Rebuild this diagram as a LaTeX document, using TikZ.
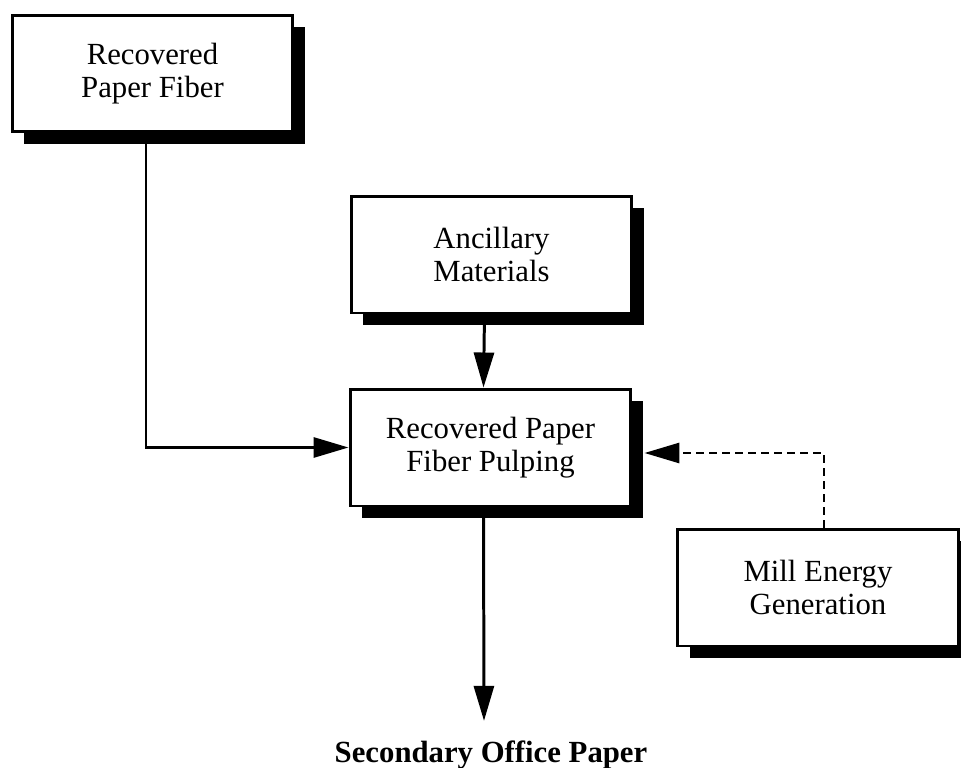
\documentclass[tikz,border=0pt]{standalone}
\usepackage{fontspec}
\setmainfont{Liberation Serif}
\usetikzlibrary{arrows.meta,shadows}

\begin{document}
\begin{tikzpicture}[x=0.02cm,y=-0.02cm,line width=1.7pt,
    every node/.style={font=\fontsize{17.5pt}{18.5pt}\selectfont},
    box/.style={draw,fill=white,align=center,minimum width=5.62cm,minimum height=2.34cm,
        drop shadow={shadow xshift=0.24cm,shadow yshift=-0.24cm,fill=black,opacity=1}},
    flow/.style={-{Triangle[length=0.7cm,width=0.4cm]}}]
                \useasboundingbox (0,0) rectangle (961,768);

                \node[box] (fiber) at (152.5,73.5) {Recovered\\Paper Fiber};
                \node[box] (anc) at (491.5,254.5) {Ancillary\\Materials};
                \node[box] (pulp) at (490.5,447.5) {Recovered Paper\\Fiber Pulping};
                \node[box] (energy) at (818,587.5) {Mill Energy\\Generation};
                \node[anchor=base,inner sep=0pt,font=\fontsize{17.5pt}{18.5pt}\selectfont\bfseries] (paper) at (491,762) {Secondary Office Paper};

                \draw[flow] ([xshift=-0.13cm]fiber.south) |- (pulp.west);
                \draw[flow] ([xshift=-0.14cm]anc.south) -- ([xshift=-0.14cm]pulp.north);
                \draw[flow,dash pattern=on 0.16cm off 0.1cm] ([xshift=0.12cm]energy.north) |- ([xshift=0.24cm,yshift=-0.11cm]pulp.east);
                \draw[flow] ([xshift=-0.14cm]pulp.south) -- ([xshift=-0.14cm,yshift=0.36cm]paper.north);
\end{tikzpicture}
\end{document}
